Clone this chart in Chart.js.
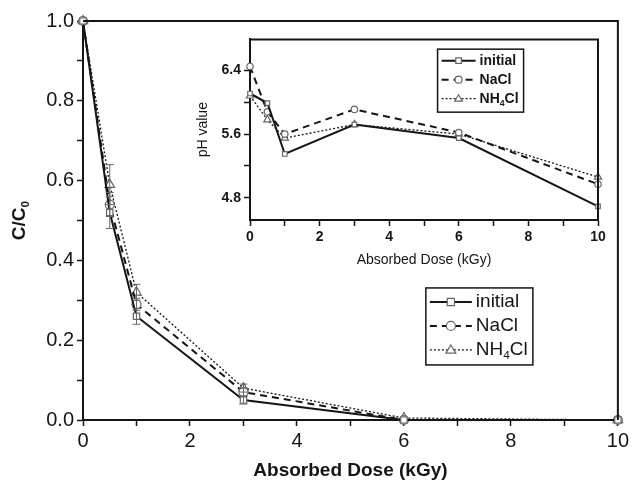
<!DOCTYPE html>
<html><head><meta charset="utf-8">
<script src="https://cdn.jsdelivr.net/npm/chart.js@4/dist/chart.umd.min.js"></script>
<style>
html,body{margin:0;padding:0;background:#fff;}
#wrap{position:relative;width:632px;height:486px;overflow:hidden;}
#main{position:absolute;left:0;top:0;}
#inset{position:absolute;left:195px;top:28px;}
</style></head><body>
<div id="wrap">
<canvas id="main" width="632" height="486"></canvas>
<canvas id="inset" width="415" height="245"></canvas>
</div>
<script>
// Data
const doses = [0, 0.5, 1, 3, 6, 10];
const seriesNames = ['initial', 'NaCl', 'NH4Cl'];

// Main plot: C/C0
const ratioInitial = [1.0, 0.52, 0.26, 0.05, 0.0, 0.0];
const ratioNaCl = [1.0, 0.54, 0.29, 0.07, 0.0, 0.0];
const ratioNH4Cl = [1.0, 0.59, 0.32, 0.08, 0.005, 0.0];
const errInitial = [0, 0.04, 0.02, 0.01, 0, 0];
const errNaCl = [0, 0.03, 0.015, 0.01, 0, 0];
const errNH4Cl = [0, 0.05, 0.02, 0.01, 0, 0];

// Inset: pH value
const phInitial = [6.11, 5.99, 5.35, 5.72, 5.55, 4.69];
const phNaCl = [6.45, 5.88, 5.6, 5.91, 5.62, 4.97];
const phNH4Cl = [6.08, 5.78, 5.55, 5.72, 5.6, 5.06];

// Tick positions / labels
const mainXTicks = [0, 1, 2, 3, 4, 5, 6, 7, 8, 9, 10];
const mainXLabels = [0, 2, 4, 6, 8, 10];
const mainYTicks = [0, 0.1, 0.2, 0.3, 0.4, 0.5, 0.6, 0.7, 0.8, 0.9, 1.0];
const mainYLabels = [0, 0.2, 0.4, 0.6, 0.8, 1.0];
const insetYTicks = [4.8, 5.2, 5.6, 6.0, 6.4];
const insetYLabels = [4.8, 5.6, 6.4];

const INK = '#151515';
const MARK = '#666';
const FONT = "'Liberation Sans', Arial, sans-serif";

const styles = [
    { dash: [], width: 2, point: 'rect' },
    { dash: [7, 5], width: 2, point: 'circle' },
    { dash: [2, 2], width: 1.3, point: 'triangle' }
];

const has = (list, v) => list.some(t => Math.abs(t - v) < 1e-6);

function makeSets(values, errs, radius) {
    return values.map((vals, k) => ({
        label: seriesNames[k],
        data: doses.map((d, i) => ({ x: d, y: vals[i] })),
        errors: errs ? errs[k] : null,
        borderColor: INK,
        borderWidth: styles[k].width,
        borderDash: styles[k].dash,
        pointStyle: styles[k].point,
        pointRadius: styles[k].point === 'triangle' ? radius + 1 : radius,
        pointBorderColor: MARK,
        pointBackgroundColor: '#fff',
        pointBorderWidth: 1.2,
        tension: 0,
        clip: false
    }));
}

// text with digits drawn as subscripts (NH4Cl, C/C0)
function chemWidth(ctx, text, size, weight) {
    let w = 0;
    for (const ch of text) {
        const sub = /\d/.test(ch);
        ctx.font = weight + ' ' + (sub ? size * 0.62 : size) + 'px ' + FONT;
        w += ctx.measureText(ch).width;
    }
    return w;
}
function drawChem(ctx, text, x, y, size, weight) {
    ctx.textAlign = 'left';
    ctx.textBaseline = 'middle';
    for (const ch of text) {
        const sub = /\d/.test(ch);
        ctx.font = weight + ' ' + (sub ? size * 0.62 : size) + 'px ' + FONT;
        ctx.fillText(ch, x, sub ? y + size * 0.32 : y);
        x += ctx.measureText(ch).width;
    }
}

function drawMarker(ctx, style, x, y, r) {
    ctx.save();
    ctx.setLineDash([]);
    ctx.fillStyle = '#fff';
    ctx.strokeStyle = MARK;
    ctx.lineWidth = 1.2;
    ctx.beginPath();
    if (style === 'rect') ctx.rect(x - r * 0.8, y - r * 0.8, r * 1.6, r * 1.6);
    else if (style === 'circle') ctx.arc(x, y, r, 0, Math.PI * 2);
    else { ctx.moveTo(x, y - r * 1.1); ctx.lineTo(x + r * 1.1, y + r * 0.7); ctx.lineTo(x - r * 1.1, y + r * 0.7); ctx.closePath(); }
    ctx.fill();
    ctx.stroke();
    ctx.restore();
}

const figPlugin = {
    id: 'fig',
    afterDatasetsDraw(chart, args, opts) {
        const ctx = chart.ctx;
        const a = chart.chartArea;
        const xs = chart.scales.x, ys = chart.scales.y;
        ctx.save();
        // error bars
        chart.data.datasets.forEach(ds => {
            if (!ds.errors) return;
            ctx.strokeStyle = MARK;
            ctx.lineWidth = 1;
            ds.errors.forEach((e, i) => {
                if (!e) return;
                const px = xs.getPixelForValue(ds.data[i].x);
                const t = ys.getPixelForValue(ds.data[i].y + e);
                const b = ys.getPixelForValue(ds.data[i].y - e);
                ctx.beginPath();
                ctx.moveTo(px, t); ctx.lineTo(px, b);
                ctx.moveTo(px - 4, t); ctx.lineTo(px + 4, t);
                ctx.moveTo(px - 4, b); ctx.lineTo(px + 4, b);
                ctx.stroke();
            });
        });
        // frame (top and right)
        ctx.strokeStyle = INK;
        ctx.lineWidth = 2;
        ctx.beginPath();
        ctx.moveTo(a.left, a.top); ctx.lineTo(a.right, a.top); ctx.lineTo(a.right, a.bottom);
        ctx.stroke();
        // legend
        const L = opts.legend;
        const lx = a.left + (a.right - a.left) * L.fx, ly = a.top + (a.bottom - a.top) * L.fy;
        ctx.fillStyle = '#fff';
        ctx.fillRect(lx, ly, L.w, L.h);
        ctx.strokeStyle = INK;
        ctx.lineWidth = 1.5;
        ctx.strokeRect(lx, ly, L.w, L.h);
        chart.data.datasets.forEach((ds, k) => {
            const ry = ly + L.pad + L.row * (k + 0.5);
            ctx.strokeStyle = INK;
            ctx.lineWidth = ds.borderWidth;
            ctx.setLineDash(ds.borderDash);
            ctx.beginPath();
            ctx.moveTo(lx + 4, ry); ctx.lineTo(lx + 4 + L.line, ry);
            ctx.stroke();
            ctx.setLineDash([]);
            drawMarker(ctx, ds.pointStyle, lx + 4 + L.line / 2, ry, L.r);
            ctx.fillStyle = INK;
            drawChem(ctx, ds.label, lx + 8 + L.line, ry, L.size, L.weight);
        });
        // rotated y title with subscript
        if (opts.yTitle) {
            ctx.save();
            ctx.translate(opts.yTitle.x, (a.top + a.bottom) / 2);
            ctx.rotate(-Math.PI / 2);
            ctx.fillStyle = INK;
            const w = chemWidth(ctx, opts.yTitle.text, opts.yTitle.size, 'bold');
            drawChem(ctx, opts.yTitle.text, -w / 2, 0, opts.yTitle.size, 'bold');
            ctx.restore();
        }
        ctx.restore();
    }
};

function axis(ticksList, labelsList, fmt, size, weight, fit, extra) {
    return Object.assign({
        type: 'linear',
        afterBuildTicks: s => { s.ticks = ticksList.map(v => ({ value: v })); },
        afterFit: fit,
        border: { color: INK, width: 2 },
        grid: { drawOnChartArea: false, drawTicks: true, tickLength: 6, tickWidth: 1.5, tickColor: INK },
        ticks: {
            autoSkip: false, maxRotation: 0, padding: 3, color: INK,
            font: { family: FONT, size: size, weight: weight },
            callback: v => has(labelsList, v) ? fmt(v) : ''
        }
    }, extra);
}

new Chart(document.getElementById('main'), {
    type: 'line',
    data: { datasets: makeSets([ratioInitial, ratioNaCl, ratioNH4Cl], [errInitial, errNaCl, errNH4Cl], 4.5) },
    options: {
        responsive: false, animation: false,
        layout: { padding: { top: 21, right: 12, left: 0, bottom: 0 } },
        plugins: {
            legend: { display: false }, tooltip: { enabled: false },
            fig: {
                legend: { fx: 0.641, fy: 0.669, w: 107, h: 77, pad: 2, row: 24, line: 42, r: 4.5, size: 19, weight: 'normal' },
                yTitle: { text: 'C/C0', x: 20, size: 19 }
            }
        },
        scales: {
            x: axis(mainXTicks, mainXLabels, v => String(v), 20, 'normal', s => { s.height = 66; },
                { min: 0, max: 10, title: { display: true, text: 'Absorbed Dose (kGy)', color: INK, font: { family: FONT, size: 19, weight: 'bold' }, padding: { top: 0, bottom: 4 } } }),
            y: axis(mainYTicks, mainYLabels, v => v.toFixed(1), 20, 'normal', s => { s.width = 83; }, { min: 0, max: 1.0 })
        }
    },
    plugins: [figPlugin]
});

new Chart(document.getElementById('inset'), {
    type: 'line',
    data: { datasets: makeSets([phInitial, phNaCl, phNH4Cl], null, 3.2) },
    options: {
        responsive: false, animation: false,
        layout: { padding: { top: 7, right: 12, left: 0, bottom: 0 } },
        plugins: {
            legend: { display: false }, tooltip: { enabled: false },
            fig: { legend: { fx: 0.539, fy: 0.054, w: 86, h: 63, pad: 2, row: 19, line: 34, r: 3.5, size: 14, weight: 'bold' } }
        },
        scales: {
            x: axis(mainXTicks, mainXLabels, v => String(v), 14, 'bold', s => { s.height = 53; },
                { min: 0, max: 10, title: { display: true, text: 'Absorbed Dose (kGy)', color: INK, font: { family: FONT, size: 14 }, padding: { top: 2, bottom: 4 } } }),
            y: axis(insetYTicks, insetYLabels, v => v.toFixed(1), 14, 'bold', s => { s.width = 55; },
                { min: 4.52, max: 6.79, title: { display: true, text: 'pH value', color: INK, font: { family: FONT, size: 14 }, padding: { top: 0, bottom: 2 } } })
        }
    },
    plugins: [figPlugin]
});
</script>
</body></html>
